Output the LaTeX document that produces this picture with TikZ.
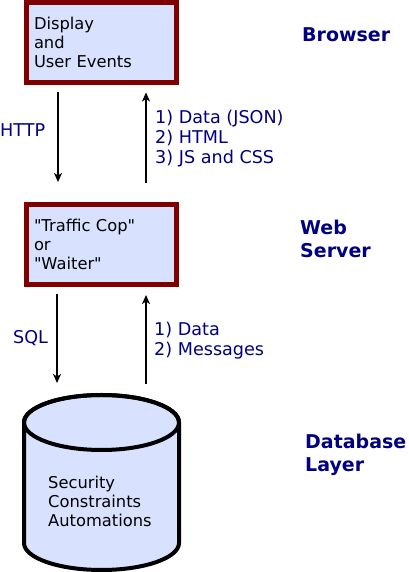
\documentclass[tikz,border=0pt]{standalone}
\usepackage{fontspec}
\setmainfont{DejaVu Sans}
\usetikzlibrary{positioning,calc,arrows.meta}
\definecolor{boxred}{RGB}{128,0,0}
\definecolor{boxblue}{RGB}{216,226,255}
\definecolor{labelblue}{RGB}{0,0,128}
\tikzset{>={Stealth[length=9pt,width=8pt,inset=2.5pt]}}
\tikzset{
  tierbox/.style={draw=boxred,fill=boxblue,line width=5pt,minimum width=150pt,
    minimum height=80pt,text width=134pt,inner xsep=8pt,align=left,outer sep=0pt,
    font=\fontsize{16.3}{19}\selectfont},
  tiername/.style={text=labelblue,font=\fontsize{19}{23}\selectfont\bfseries,
    align=left,anchor=base west,inner sep=0pt},
  flowtext/.style={text=labelblue,font=\fontsize{17.6}{20}\selectfont,
    align=left,anchor=base west,inner sep=0pt},
  dbtext/.style={font=\fontsize{16.3}{19}\selectfont,align=left,anchor=base west,inner sep=0pt},
  flow/.style={->,line width=2pt}
}

\begin{document}
\begin{tikzpicture}[x=1pt,y=1pt]
\useasboundingbox (0,0) rectangle (408,572);

% Browser tier
\node[tierbox] (browser) at (101,529.5) {Display\\and\\User Events};
\node[tiername] (browsername) at (302,530) {Browser};

% Web server tier
\node[tierbox] (server) at (101,327.5)
   {\textquotedbl Traffic Cop\textquotedbl\\or\\\textquotedbl Waiter\textquotedbl};
\node[tiername] (servername) at (300,314) {Web\\Server};

% Database cylinder
\coordinate (dbtop) at (101.5,177);
\filldraw[draw=black,fill=boxblue,line width=4pt] (24,149.5) -- (24,29)
   arc [start angle=180,end angle=360,x radius=77.5,y radius=27] -- (179,149.5)
   arc [start angle=0,end angle=180,x radius=77.5,y radius=27.5] -- cycle;
\draw[line width=4pt] (101.5,149.5) ellipse [x radius=77.5,y radius=27.5];
\node[dbtext] (dbcontent) at (48,45) {Security\\Constraints\\Automations};
\node[tiername] (dbname) at (305,100) {Database\\Layer};

% Browser <-> web server
\draw[flow,shorten <=9.5pt,shorten >=22.5pt] ([xshift=-43pt]browser.south) -- ([xshift=-43pt]server.north);
\draw[flow,shorten <=21.5pt,shorten >=10pt] ([xshift=45pt]server.north) -- ([xshift=45pt]browser.south);
\node[flowtext] (http) at (0,435) {HTTP};
\node[flowtext] (replies) at (155,408) {1) Data (JSON)\\2) HTML\\3) JS and CSS};

% Web server <-> database
\draw[flow,shorten <=9.5pt,shorten >=12pt] ([xshift=-44pt]server.south) -- ([xshift=-44.5pt]dbtop);
\draw[flow,shorten <=11pt,shorten >=10.5pt] ([xshift=44.5pt]dbtop) -- ([xshift=45pt]server.south);
\node[flowtext] (sql) at (13,228) {SQL};
\node[flowtext] (results) at (154,216) {1) Data\\2) Messages};

\end{tikzpicture}
\end{document}
